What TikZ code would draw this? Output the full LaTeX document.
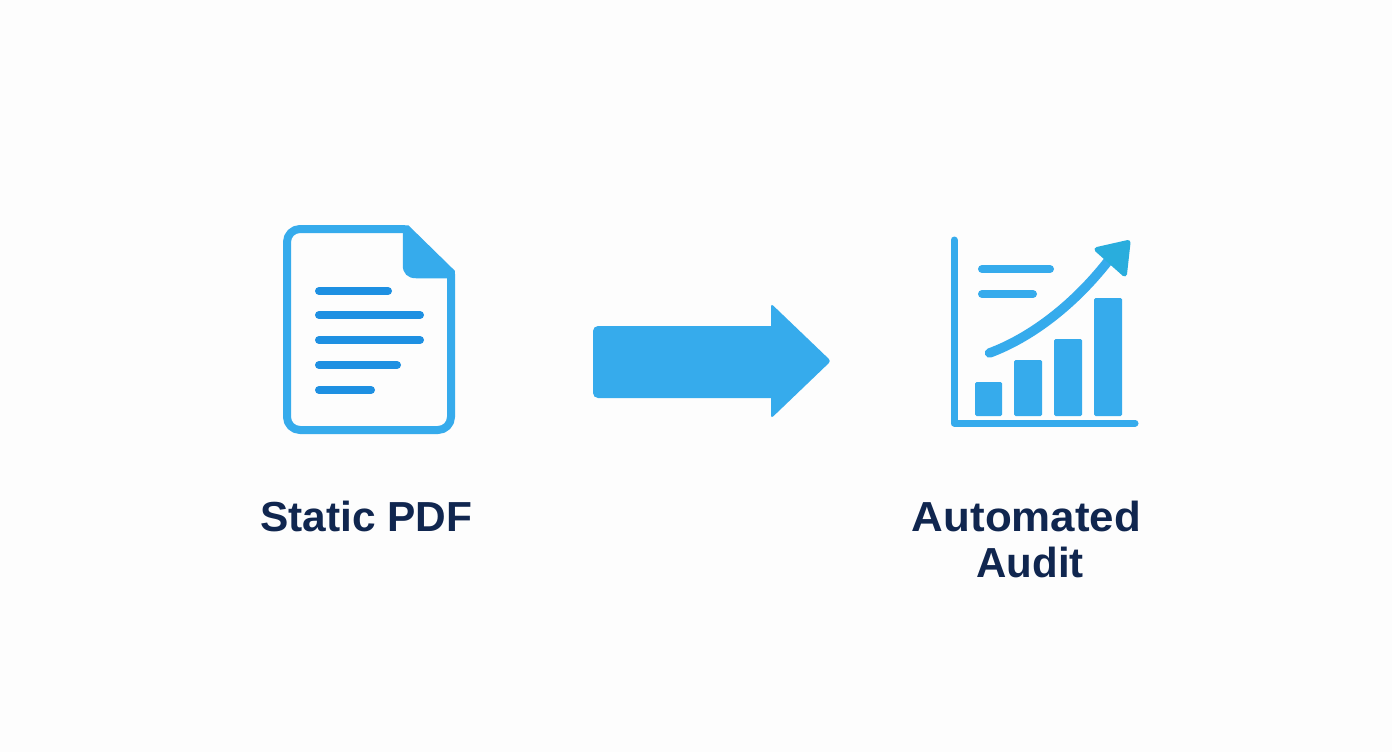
\documentclass[tikz,border=0pt]{standalone}
\usepackage{fontspec}
\setmainfont{Liberation Sans}
\definecolor{bgc}{HTML}{FDFDFD}
\definecolor{iconblue}{HTML}{36ABEC}
\definecolor{linedark}{HTML}{1E90E2}
\definecolor{arrowhd}{HTML}{29ADDD}
\definecolor{textnavy}{HTML}{10264F}
\tikzset{
  outline/.style={draw=iconblue,line width=8pt,line join=round},
  fillicon/.style={fill=iconblue,draw=iconblue,line width=1.5pt,line join=round},
  textline/.style={draw=linedark,line width=8pt,line cap=round},
  chartline/.style={draw=iconblue,line width=8pt,line cap=round},
  axisline/.style={draw=iconblue,line width=7pt,line cap=round,line join=round},
  bar/.style={fill=iconblue,rounded corners=1.5pt},
  lab/.style={font=\bfseries\fontsize{42}{46}\selectfont,text=textnavy,align=center,inner sep=0pt},
}
\begin{document}
\begin{tikzpicture}[x=1pt,y=-1pt]
\useasboundingbox (0,0) rectangle (1392,752);
\fill[bgc] (0,0) rectangle (1392,752);
% document icon
\draw[outline,rounded corners=13pt] (405,229) -- (287,229) -- (287,430) -- (451,430) -- (451,274);
\fill[fillicon] (403.5,226) -- (408,226) -- (454,271) -- (454,277.5) -- (416,277.5) .. controls (408,277.5) and (403.5,273) .. (403.5,265) -- cycle;
\draw[textline] (319,291) -- (388,291);
\draw[textline] (319,315) -- (420,315);
\draw[textline] (319,340) -- (420,340);
\draw[textline] (319,365) -- (397,365);
\draw[textline] (319,390) -- (371,390);
% block arrow
\fill[iconblue] (700,326) [rounded corners=5pt] -- (593,326) -- (593,398) -- (700,398) [sharp corners] -- (771,398) [rounded corners=3pt] -- (771,418.5) -- (831,361) -- (771,303.5) [sharp corners] -- (771,326) -- cycle;
% chart icon
\draw[axisline] (954,240) -- (954,423) -- (1135,423);
\draw[chartline] (982,269) -- (1050,269);
\draw[chartline] (982,294) -- (1033,294);
\fill[bar] (975,382) rectangle (1002,416);
\fill[bar] (1014,360) rectangle (1042,416);
\fill[bar] (1054,339) rectangle (1082,416);
\fill[bar] (1094,298) rectangle (1122,416);
\draw[draw=iconblue,line width=9.5pt,line cap=round] (989.5,353) .. controls (1030,338) and (1075,305) .. (1112,256);
\fill[fill=arrowhd,draw=arrowhd,line width=5pt,line join=round] (1097,249.5) -- (1128,242.5) -- (1124.5,274) -- cycle;
% labels
\node[lab] (static) at (366.5,516) {\scalebox{1.01}[1]{Static PDF}};
\node[lab] (audit) at (1026.5,539) {\scalebox{1.045}[1]{Automated}\\\hspace*{7pt}Audit};
\end{tikzpicture}
\end{document}
